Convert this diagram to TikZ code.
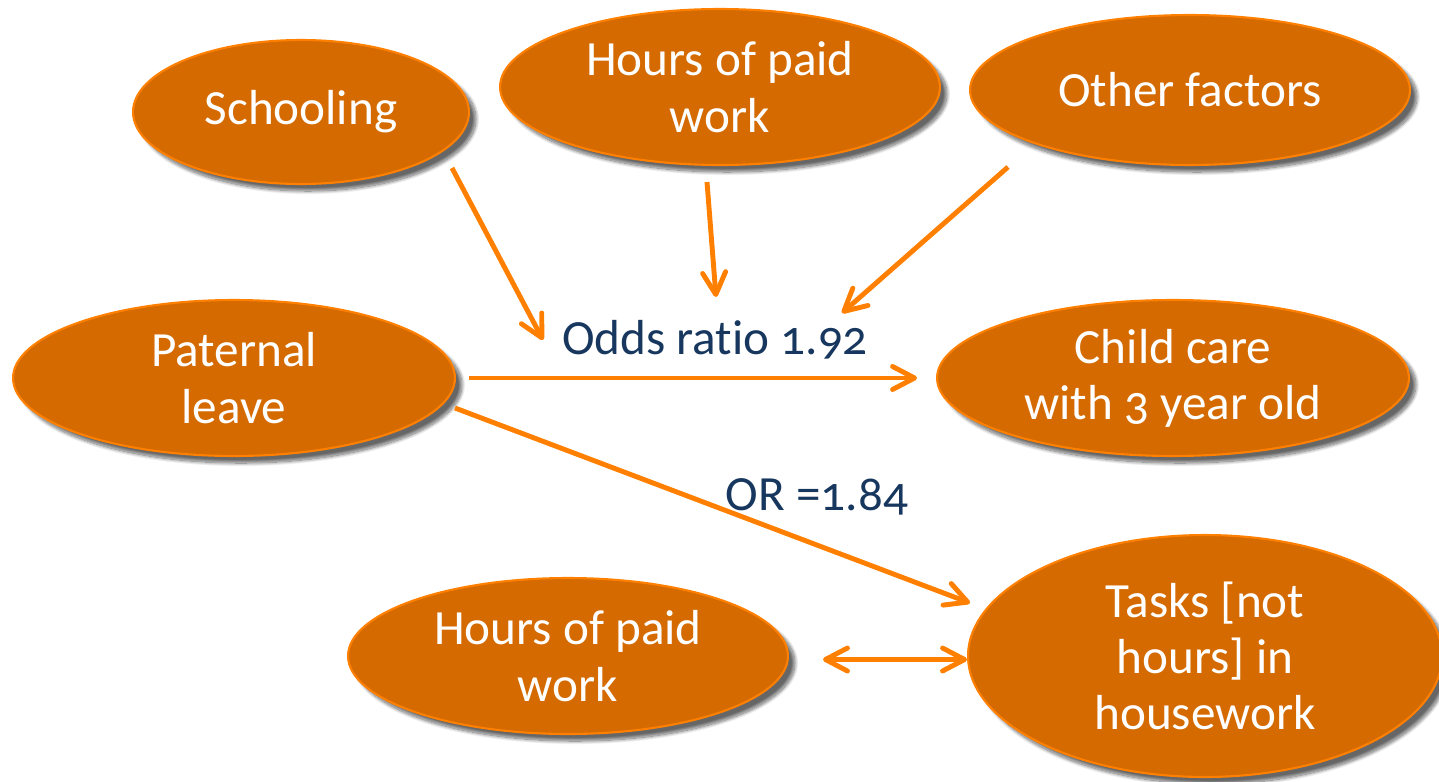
\documentclass[tikz,border=0pt]{standalone}
\usepackage{fontspec}
\setmainfont{Carlito}[Numbers=OldStyle, Ligatures=NoCommon]
\usepackage{tikz}
\usetikzlibrary{positioning,shapes.geometric,shadows.blur,arrows.meta}

\definecolor{Rust}{HTML}{D46A00}
\definecolor{Tangerine}{HTML}{FF8000}
\definecolor{Navy}{HTML}{17375E}

\begin{document}
\begin{tikzpicture}[x = 0.02cm, y = -0.02cm]
   \tikzset{
     bubble/.style = { ellipse,
                       fill        = Rust,
                       draw        = Tangerine,
                       line width  = 1.2pt,
                       text        = white,
                       align       = center,
                       inner sep   = 0pt,
                       font        = \fontsize{28}{32}\selectfont,
                       blur shadow = {shadow blur steps = 15,
                                      shadow xshift     = 4pt,
                                      shadow yshift     = -4pt,
                                      shadow opacity    = 60} },
     link/.style   = { draw       = Tangerine,
                       line width = 2.8pt,
                       >          = {Straight Barb[length = 0.44cm, width = 0.46cm, round]} },
     ratio/.style  = { text      = Navy,
                       inner sep = 0pt,
                       font      = \fontsize{28}{32}\selectfont },
   }

   \useasboundingbox (0,0) rectangle (1439,781);

   % top row
   \node [bubble, minimum width = 6.72cm, minimum height = 2.88cm] (School) at (301,112)
       {Schooling};
   \node [bubble, minimum width = 8.8cm, minimum height = 3.12cm] (Hours) at (720,87)
       {Hours of paid\\work};
   \node [bubble, minimum width = 8.8cm, minimum height = 3.0cm] (Other) at (1190,90)
       {Other factors};

   % middle row
   \node [bubble, minimum width = 8.84cm, minimum height = 3.12cm] (Leave) at (234,378)
       {Paternal\\leave};
   \node [bubble, minimum width = 9.44cm, minimum height = 3.12cm] (Care) at (1173,378)
       {Child care\\with 3 year old};

   % bottom row
   \node [bubble, minimum width = 8.8cm, minimum height = 3.12cm] (PaidWork) at (568,656)
       {Hours of paid\\work};
   \node [bubble, minimum width = 9.48cm, minimum height = 4.84cm] (Tasks) at (1205,656)
       {Tasks [not\\hours] in\\housework};

   \node [ratio] (OddsRatio) at (715,340) {Odds ratio 1.92};
   \node [ratio] (OrRatio)   at (817,497) {OR =1.84};

   \coordinate (SchoolTail) at (452,168);
   \coordinate (SchoolTip)  at (543,340);
   \coordinate (HoursTail)  at (707,182);
   \coordinate (HoursTip)   at (716,297);
   \coordinate (OtherTail)  at (1008,167);
   \coordinate (OtherTip)   at (842,313);
   \coordinate (LeaveTail)  at (455,408);
   \coordinate (TasksTip)   at (970,603);

   \draw [link, ->] (SchoolTail) -- (SchoolTip);
   \draw [link, ->] (HoursTail) -- (HoursTip);
   \draw [link, ->] (OtherTail) -- (OtherTip);
   \draw [link, ->, shorten <= 0.26cm, shorten >= 0.38cm] (Leave.east) -- (Care.west);
   \draw [link, ->] (LeaveTail) -- (TasksTip);
   \draw [link, <->, shorten <= 0.68cm] ([yshift = -2pt]PaidWork.east) -- ([yshift = -2pt]Tasks.west);

\end{tikzpicture}
\end{document}
